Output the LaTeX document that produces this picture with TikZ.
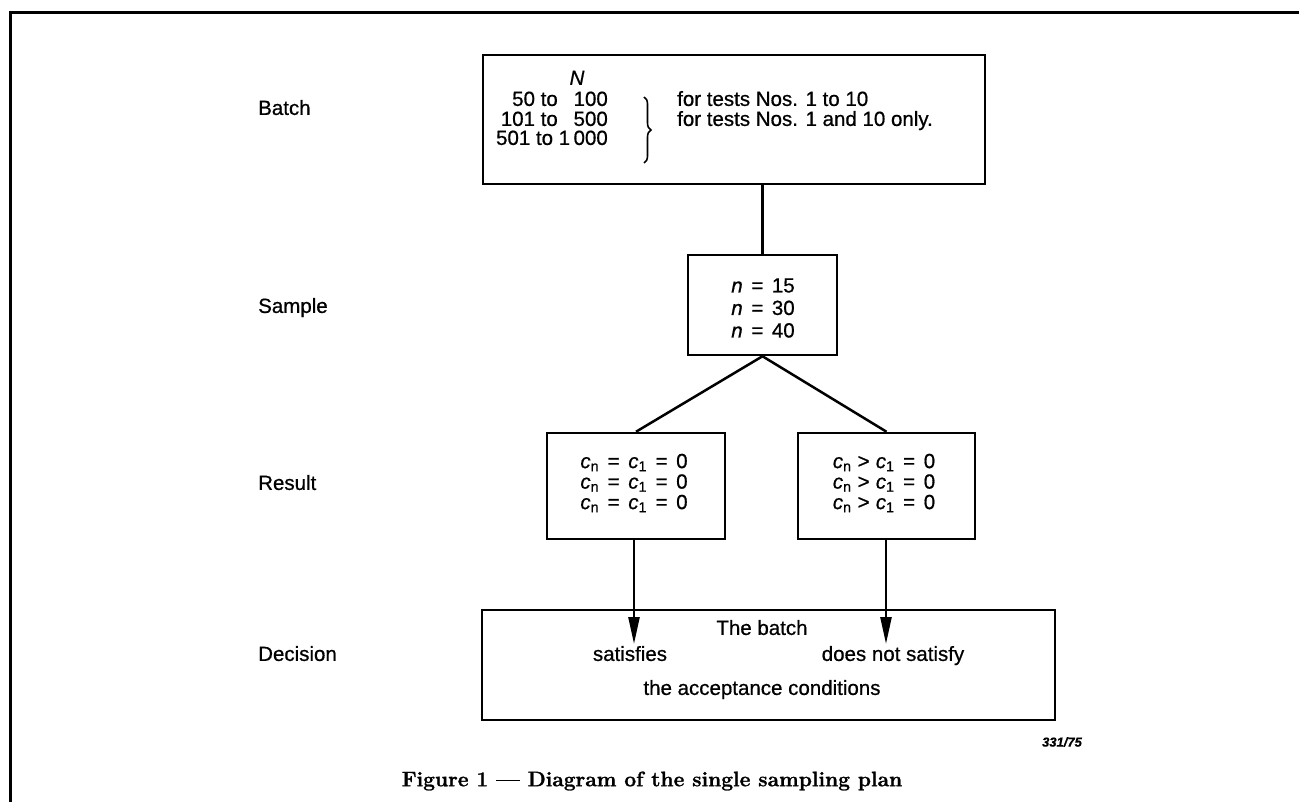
\documentclass[tikz,border=0pt]{standalone}
\usepackage{fontspec}
\setmainfont{Liberation Sans}[FakeBold=0.7]
\newfontfamily\capfont{Latin Modern Roman}[BoldFeatures={FakeBold=1.2}]
\usetikzlibrary{arrows.meta,decorations.pathreplacing}
\newcommand\sEq{\hspace{0.42em}=\hspace{0.42em}}
\newcommand\sGt{\hspace{0.3em}>\hspace{0.3em}}
\newcommand\cn{\textit{c}\textsubscript{n}}
\newcommand\cone{\textit{c}\textsubscript{1}}
\begin{document}
\begin{tikzpicture}[x=1pt,y=-1pt,
  box/.style={draw,line width=2.5pt,inner sep=0pt},
  txt/.style={font=\fontsize{20.5}{22}\selectfont,inner sep=0pt,text height=1.4ex,text depth=0.3ex},
  blk/.style={font=\fontsize{20.5}{22.5}\selectfont,inner sep=0pt,align=center},
  conn/.style={line width=2.5pt},
  arr/.style={line width=2.5pt,-{Triangle[length=27pt,width=11pt]}}]
\useasboundingbox (0,0) rectangle (1299,802);
\draw[line width=3pt] (10,802) -- (10,13) -- (1299,13);
% boxes
\node[box,minimum width=502pt,minimum height=129pt] (batch) at (734,119.5) {};
\node[box,minimum width=149pt,minimum height=100pt] (sample) at (762.5,305) {};
\node[box,minimum width=178pt,minimum height=106pt] (rl) at (636,486) {};
\node[box,minimum width=177pt,minimum height=106pt] (rr) at (886.5,486) {};
\node[box,minimum width=573pt,minimum height=110pt] (dec) at (768.5,665) {};
% row labels
\node[txt,anchor=west] (lbatch) at (258,112) {Batch};
\node[txt,anchor=west] (lsample) at (258,310) {Sample};
\node[txt,anchor=west] (lresult) at (258,487) {Result};
\node[txt,anchor=west] (ldecision) at (258,658) {Decision};
% batch contents
\node[txt] (bN) at (577,82) {\textit{N}};
\node[txt,anchor=east] (b1a) at (558,103) {50 to};
\node[txt,anchor=east] (b1b) at (608,103) {100};
\node[txt,anchor=east] (b2a) at (558,123) {101 to};
\node[txt,anchor=east] (b2b) at (608,123) {500};
\node[txt,anchor=east] (b3) at (608,142) {501 to 1\,000};
\coordinate (brt) at (644,97);
\coordinate (brb) at (644,163);
\draw[line width=1.6pt,decorate,decoration={brace,amplitude=7pt}] (brt) -- (brb);
\node[txt,anchor=west] (f1) at (677,103) {for tests Nos. 1 to 10};
\node[txt,anchor=west] (f2) at (677,123) {for tests Nos. 1 and 10 only.};
% sample contents
\node[blk] (st) at (763,308) {\textit{n}\sEq 15\\\textit{n}\sEq 30\\\textit{n}\sEq 40};
% result contents
\node[blk,font=\fontsize{20.5}{20.5}\selectfont] (rlt) at (634,483) {\cn\sEq\cone\sEq 0\\\cn\sEq\cone\sEq 0\\\cn\sEq\cone\sEq 0};
\node[blk,font=\fontsize{20.5}{20.5}\selectfont] (rrt) at (884,483) {\cn\sGt\cone\sEq 0\\\cn\sGt\cone\sEq 0\\\cn\sGt\cone\sEq 0};
% decision contents
\node[txt] (d1) at (762,632) {The batch};
\node[txt] (d2) at (630,658) {satisfies};
\node[txt] (d3) at (893,658) {does not satisfy};
\node[txt] (d4) at (762,692) {the acceptance conditions};
% connectors
\draw[conn] (batch.south -| sample.north) -- (sample.north);
\draw[conn] (sample.south) -- (rl.north);
\draw[conn] (sample.south) -- (rr.north);
\coordinate (tl) at (634,644);
\coordinate (tr) at (886,644);
\draw[arr] (rl.south -| tl) -- (tl);
\draw[arr] (rr.south -| tr) -- (tr);
% figure number and caption
\node[inner sep=0pt,font=\fontsize{13}{14}\selectfont\bfseries\itshape] (num) at (1062,742) {331/75};
\node[inner sep=0pt] (cap) at (652,781) {\capfont\bfseries\fontsize{21}{24}\selectfont Figure 1 — Diagram of the single sampling plan};
\end{tikzpicture}
\end{document}
